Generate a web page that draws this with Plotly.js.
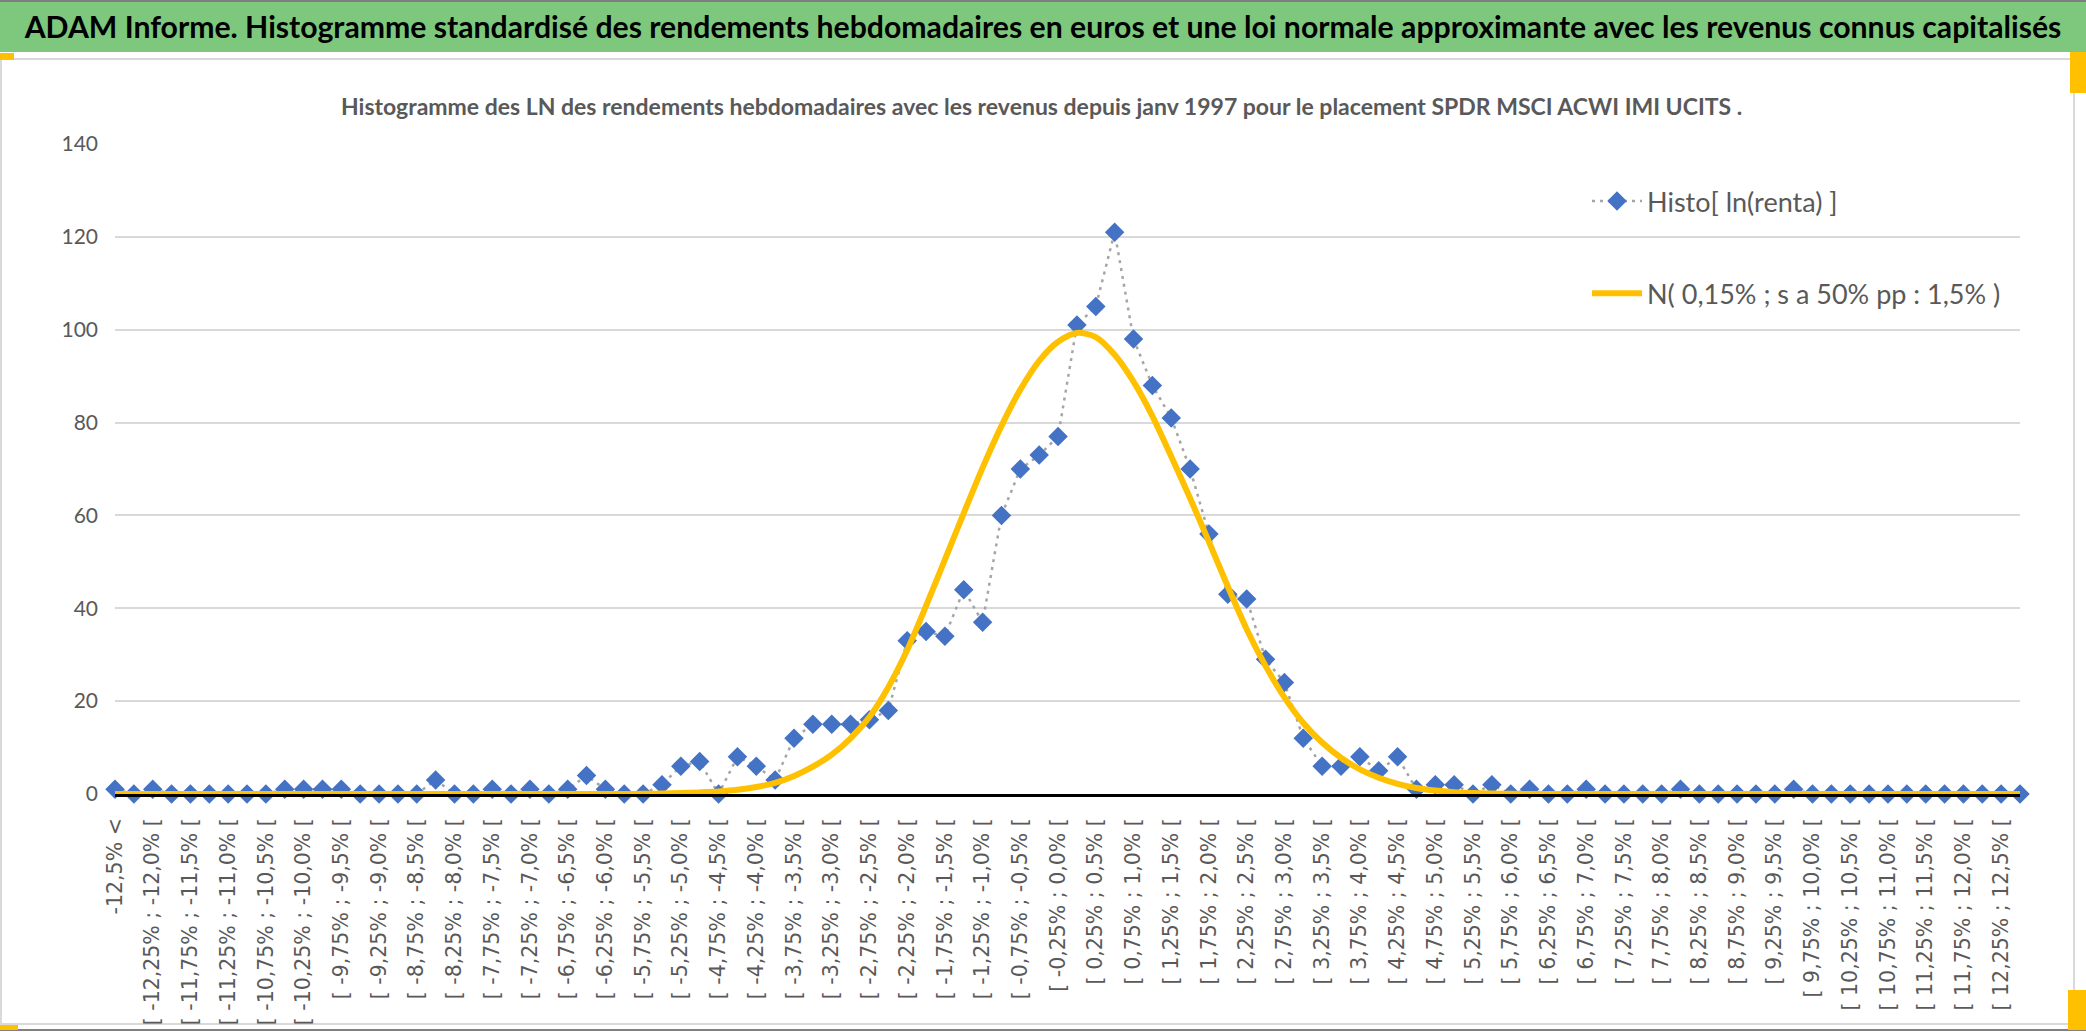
<!DOCTYPE html>
<html><head><meta charset="utf-8">
<script src="https://cdn.plot.ly/plotly-3.0.1.min.js"></script>
<style>html,body{margin:0;padding:0;background:#fff;} #chart{width:2086px;height:1032px;}</style>
</head><body><div id="chart"></div>
<script>
// ---------- DATA ----------
const categories = [
"-12,5% <",
"[ -12,5% ; -12,25% [","[ -12,25% ; -12,0% [","[ -12,0% ; -11,75% [","[ -11,75% ; -11,5% [",
"[ -11,5% ; -11,25% [","[ -11,25% ; -11,0% [","[ -11,0% ; -10,75% [","[ -10,75% ; -10,5% [",
"[ -10,5% ; -10,25% [","[ -10,25% ; -10,0% [","[ -10,0% ; -9,75% [","[ -9,75% ; -9,5% [",
"[ -9,5% ; -9,25% [","[ -9,25% ; -9,0% [","[ -9,0% ; -8,75% [","[ -8,75% ; -8,5% [",
"[ -8,5% ; -8,25% [","[ -8,25% ; -8,0% [","[ -8,0% ; -7,75% [","[ -7,75% ; -7,5% [",
"[ -7,5% ; -7,25% [","[ -7,25% ; -7,0% [","[ -7,0% ; -6,75% [","[ -6,75% ; -6,5% [",
"[ -6,5% ; -6,25% [","[ -6,25% ; -6,0% [","[ -6,0% ; -5,75% [","[ -5,75% ; -5,5% [",
"[ -5,5% ; -5,25% [","[ -5,25% ; -5,0% [","[ -5,0% ; -4,75% [","[ -4,75% ; -4,5% [",
"[ -4,5% ; -4,25% [","[ -4,25% ; -4,0% [","[ -4,0% ; -3,75% [","[ -3,75% ; -3,5% [",
"[ -3,5% ; -3,25% [","[ -3,25% ; -3,0% [","[ -3,0% ; -2,75% [","[ -2,75% ; -2,5% [",
"[ -2,5% ; -2,25% [","[ -2,25% ; -2,0% [","[ -2,0% ; -1,75% [","[ -1,75% ; -1,5% [",
"[ -1,5% ; -1,25% [","[ -1,25% ; -1,0% [","[ -1,0% ; -0,75% [","[ -0,75% ; -0,5% [",
"[ -0,5% ; -0,25% [","[ -0,25% ; 0,0% [","[ 0,0% ; 0,25% [","[ 0,25% ; 0,5% [",
"[ 0,5% ; 0,75% [","[ 0,75% ; 1,0% [","[ 1,0% ; 1,25% [","[ 1,25% ; 1,5% [",
"[ 1,5% ; 1,75% [","[ 1,75% ; 2,0% [","[ 2,0% ; 2,25% [","[ 2,25% ; 2,5% [",
"[ 2,5% ; 2,75% [","[ 2,75% ; 3,0% [","[ 3,0% ; 3,25% [","[ 3,25% ; 3,5% [",
"[ 3,5% ; 3,75% [","[ 3,75% ; 4,0% [","[ 4,0% ; 4,25% [","[ 4,25% ; 4,5% [",
"[ 4,5% ; 4,75% [","[ 4,75% ; 5,0% [","[ 5,0% ; 5,25% [","[ 5,25% ; 5,5% [",
"[ 5,5% ; 5,75% [","[ 5,75% ; 6,0% [","[ 6,0% ; 6,25% [","[ 6,25% ; 6,5% [",
"[ 6,5% ; 6,75% [","[ 6,75% ; 7,0% [","[ 7,0% ; 7,25% [","[ 7,25% ; 7,5% [",
"[ 7,5% ; 7,75% [","[ 7,75% ; 8,0% [","[ 8,0% ; 8,25% [","[ 8,25% ; 8,5% [",
"[ 8,5% ; 8,75% [","[ 8,75% ; 9,0% [","[ 9,0% ; 9,25% [","[ 9,25% ; 9,5% [",
"[ 9,5% ; 9,75% [","[ 9,75% ; 10,0% [","[ 10,0% ; 10,25% [","[ 10,25% ; 10,5% [",
"[ 10,5% ; 10,75% [","[ 10,75% ; 11,0% [","[ 11,0% ; 11,25% [","[ 11,25% ; 11,5% [",
"[ 11,5% ; 11,75% [","[ 11,75% ; 12,0% [","[ 12,0% ; 12,25% [","[ 12,25% ; 12,5% [",
"> 12,5%"
];

const histoCounts = [
1,0,1,0,0,0,0,0,0,1, 1,1,1,0,0,0,0,3,0,0,
1,0,1,0,1,4,1,0,0,2, 6,7,0,8,6,3,12,15,15,15,
16,18,33,35,34,44,37,60,70,73, 77,101,105,121,98,88,81,70,56,43,
42,29,24,12,6,6,8,5,8,1, 2,2,0,2,0,1,0,0,1,0,
0,0,0,1,0,0,0,0,0,1, 0,0,0,0,0,0,0,0,0,0,
0,0
];

const normalCurve = [
0,0,0,0,0,0,0,0,0,0, 0,0,0,0,0,0,0,0,0,0,
0,0,0,0,0,0,0,0,0.05,0.1, 0.2,0.35,0.55,0.9,1.5,2.4,3.9,5.9,8.5,12,
16.6,23,31,40.5,50.5,60.5,70.3,79.3,87.1,93.3, 97.4,99.3,98.4,94.6,88.8,81.4,72.7,63.7,54.3,44.7,
35.5,27.6,20.8,15.3,11.1,7.8,5.3,3.5,2.2,1.3, 0.75,0.4,0.2,0.1,0.05,0,0,0,0,0,
0,0,0,0,0,0,0,0,0,0, 0,0,0,0,0,0,0,0,0,0,
0,0
];

const yTicks = [0, 20, 40, 60, 80, 100, 120, 140];
const seriesNames = ["Histo[ ln(renta) ]", "N( 0,15% ; s a 50% pp : 1,5% )"];
const titleText = "ADAM Informe. Histogramme standardisé des rendements hebdomadaires en euros et une loi normale approximante avec les revenus connus capitalisés";
const subtitleText = "Histogramme des LN des rendements hebdomadaires avec les revenus depuis janv 1997 pour le placement SPDR MSCI ACWI IMI UCITS .";

// ---------- LAYOUT HELPERS ----------
const W = 2086, H = 1032, L = 115, R = 66, T = 144, B = 238;
const pw = W - L - R, ph = H - T - B;
const px = x => (x - L) / pw;
const py = y => (H - B - y) / ph;

const labelCats = categories.filter((c, i) => i % 2 === 0);
const gridIdx = categories.map((c, i) => i).filter(i => i % 4 === 0 && i <= 100);
const lastIdx = categories.length - 1;

const traces = [
  {
    type: 'scatter', mode: 'lines+markers', x: categories, y: histoCounts,
    name: seriesNames[0], legendgroup: 'a',
    line: { color: '#A5A5A5', width: 2.5, dash: '3px,5px' },
    marker: { symbol: 'diamond', size: 15, color: '#4472C4', line: { width: 0 } },
    cliponaxis: false, hoverinfo: 'x+y'
  },
  {
    type: 'scatter', mode: 'lines', x: categories, y: normalCurve,
    name: seriesNames[1], legendgroup: 'b',
    line: { color: '#FFC000', width: 6, shape: 'spline', smoothing: 0.8 },
    cliponaxis: false, hoverinfo: 'x+y'
  }
];

const orange = '#FFC000';
const shapes = [
  { type: 'rect', xref: 'paper', yref: 'paper', x0: px(0), x1: px(W), y0: py(0), y1: py(52), fillcolor: '#7DC87D', line: { width: 0 }, layer: 'below' },
  { type: 'line', xref: 'paper', yref: 'paper', x0: px(0), x1: px(W), y0: py(1), y1: py(1), line: { color: '#7F7F7F', width: 2 } },
  { type: 'rect', xref: 'paper', yref: 'paper', x0: px(1), x1: px(2074), y0: py(59), y1: py(1024), line: { color: '#D9D9D9', width: 2 }, fillcolor: 'rgba(0,0,0,0)', layer: 'below' },
  { type: 'line', xref: 'paper', yref: 'paper', x0: px(0), x1: px(W), y0: py(1030), y1: py(1030), line: { color: '#808080', width: 2 } },
  { type: 'rect', xref: 'paper', yref: 'paper', x0: px(1543), x1: px(2022), y0: py(146), y1: py(346), fillcolor: '#FFFFFF', line: { width: 0 }, layer: 'between' },
  { type: 'rect', xref: 'paper', yref: 'paper', x0: px(0), x1: px(14), y0: py(53), y1: py(60), fillcolor: orange, line: { width: 0 } },
  { type: 'rect', xref: 'paper', yref: 'paper', x0: px(2070), x1: px(W), y0: py(52), y1: py(93), fillcolor: orange, line: { width: 0 } },
  { type: 'rect', xref: 'paper', yref: 'paper', x0: px(0), x1: px(18), y0: py(1025), y1: py(1030), fillcolor: orange, line: { width: 0 } },
  { type: 'rect', xref: 'paper', yref: 'paper', x0: px(2068), x1: px(W), y0: py(990), y1: py(1030), fillcolor: orange, line: { width: 0 } }
];

const gridColor = '#D9D9D9';
const layout = {
  width: W, height: H,
  margin: { l: L, r: R, t: T, b: B, pad: 0 },
  paper_bgcolor: '#FFFFFF', plot_bgcolor: '#FFFFFF',
  title: {
    text: titleText,
    font: { family: 'Lato, Calibri, sans-serif', size: 30.2, color: '#000000', weight: 'bold' },
    xref: 'container', x: 0.5, xanchor: 'center',
    yref: 'container', y: 1 - 27 / H, yanchor: 'middle'
  },
  showlegend: true,
  legend: {
    x: px(1587), y: py(177), xanchor: 'left', yanchor: 'top',
    bgcolor: 'rgba(0,0,0,0)', borderwidth: 0,
    font: { family: 'Lato, Calibri, sans-serif', size: 27, color: '#595959' },
    traceorder: 'grouped', tracegroupgap: 54, itemwidth: 50
  },
  xaxis: {
    type: 'category', categoryorder: 'array', categoryarray: categories,
    range: [0, lastIdx],
    tickmode: 'array', tickvals: labelCats, ticktext: labelCats,
    tickangle: -90, ticks: '', ticklabelstandoff: 13,
    tickfont: { family: 'DejaVu Sans, Verdana, sans-serif', size: 20.5, color: '#595959' },
    showgrid: false, zeroline: false,
    showline: true, linecolor: '#000000', linewidth: 3,
    fixedrange: true
  },
  xaxis2: {
    overlaying: 'x', anchor: 'y', side: 'bottom', type: 'linear',
    range: [0, lastIdx], tickmode: 'array', tickvals: gridIdx,
    showticklabels: false, ticks: 'outside', ticklen: 7, tickwidth: 2, tickcolor: '#000000',
    showgrid: true, gridcolor: gridColor, gridwidth: 1.5, zeroline: false, showline: false,
    fixedrange: true
  },
  xaxis3: {
    overlaying: 'x', anchor: 'y', side: 'bottom', type: 'linear',
    range: [0, lastIdx], tickmode: 'array', tickvals: gridIdx,
    showticklabels: false, ticks: 'inside', ticklen: 7, tickwidth: 2, tickcolor: '#000000',
    showgrid: false, zeroline: false, showline: false,
    fixedrange: true
  },
  yaxis: {
    range: [0, 140], tickmode: 'array', tickvals: yTicks, ticktext: yTicks.map(String),
    ticks: '', ticklabelstandoff: 16,
    tickfont: { family: 'Lato, Calibri, sans-serif', size: 21, color: '#595959' },
    showgrid: true, gridcolor: gridColor, gridwidth: 1.5,
    zeroline: false, showline: false, fixedrange: true
  },
  annotations: [
    {
      xref: 'paper', yref: 'paper', x: px(1041), y: py(106),
      text: '<b>' + subtitleText + '</b>', showarrow: false,
      xanchor: 'center', yanchor: 'middle',
      font: { family: 'Lato, Calibri, sans-serif', size: 23, color: '#595959' }
    }
  ],
  shapes: shapes
};

Plotly.newPlot('chart', traces, layout, { displayModeBar: false, staticPlot: false, responsive: false });
</script>
</body></html>
